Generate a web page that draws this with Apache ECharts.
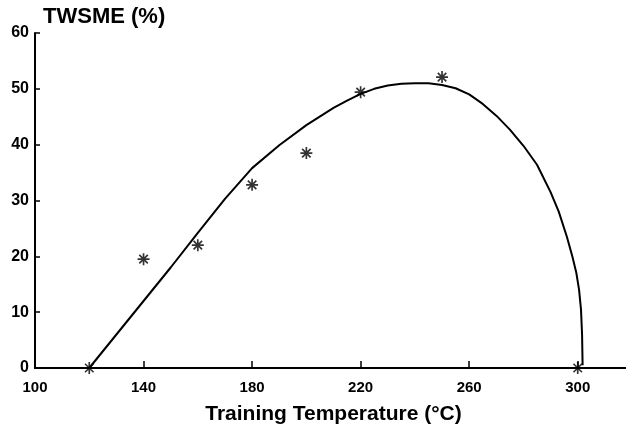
<!DOCTYPE html>
<html>
<head>
<meta charset="utf-8">
<title>TWSME vs Training Temperature</title>
<script src="https://cdn.jsdelivr.net/npm/echarts@6/dist/echarts.min.js"></script>
<style>
html,body{margin:0;padding:0;background:#fff;}
#main{width:626px;height:431px;}
</style>
</head>
<body>
<div id="main"></div>
<script>
// measured points (stars)
var pointTemp = [120, 140, 160, 180, 200, 220, 250, 300];
var pointTwsme = [0, 19.5, 22, 32.8, 38.5, 49.4, 52.1, 0];

// fitted curve
var curveTemp = [120, 130, 140, 150, 160, 170, 180, 190, 200, 210, 215, 220, 225, 230, 235, 240, 245, 250, 255, 260, 265, 270, 275, 280, 285, 290, 293, 296, 298, 299.5, 300.5, 301.2, 301.6, 301.8];
var curveTwsme = [0, 6, 12, 18, 24.2, 30.3, 35.8, 39.9, 43.5, 46.6, 47.9, 49.1, 50, 50.6, 50.9, 51, 51, 50.7, 50.1, 49, 47.3, 45.2, 42.7, 39.8, 36.4, 31.5, 28, 23.5, 20, 17, 14, 10.5, 6, 0.5];

// tick labels
var xLabels = [100, 140, 180, 220, 260, 300];
var xTicks = [140, 180, 220, 260, 300];

// 8-arm asterisk
var asterisk = 'path://M-1.4,-10L1.4,-10L1.4,10L-1.4,10Z' +
	'M-10,-1.4L10,-1.4L10,1.4L-10,1.4Z' +
	'M-8.06,-6.08L-6.08,-8.06L8.06,6.08L6.08,8.06Z' +
	'M6.08,-8.06L8.06,-6.08L-6.08,8.06L-8.06,6.08Z';

function pairs(xs, ys){
	var out = [];
	for (var i = 0; i < xs.length; i++) {
		out.push([xs[i], ys[i]]);
	}
	return out;
}

var font = '"Liberation Sans", Arial, sans-serif';
var chart = echarts.init(document.getElementById('main'), null, {renderer: 'canvas'});

var option = {
	animation: false,
	backgroundColor: '#fff',
	title: {
		text: 'TWSME (%)',
		left: 38,
		top: 1,
		textStyle: {fontFamily: font, fontSize: 22, fontWeight: 'bold', color: '#000'}
	},
	grid: {left: 35, top: 33, bottom: 63, right: -6, outerBoundsMode: 'none', containLabel: false},
	xAxis: [{
		type: 'value',
		min: 100,
		max: 320,
		interval: 40,
		name: 'Training Temperature (°C)',
		nameLocation: 'middle',
		nameGap: 36,
		nameTextStyle: {fontFamily: font, fontSize: 21, fontWeight: 'bold', color: '#000'},
		axisLine: {show: true, onZero: false, lineStyle: {color: '#000', width: 2}},
		axisTick: {show: true, inside: true, length: 7, customValues: xTicks, lineStyle: {color: '#000', width: 1.5}},
		axisLabel: {margin: 12, customValues: xLabels, fontFamily: font, fontSize: 15, fontWeight: 'bold', color: '#000'},
		splitLine: {show: false}
	}, {
		type: 'value',
		position: 'top',
		min: 100,
		max: 320,
		axisLine: {show: true, lineStyle: {color: '#000', width: 2}},
		axisTick: {show: false},
		axisLabel: {show: false},
		splitLine: {show: false}
	}],
	yAxis: {
		type: 'value',
		min: 0,
		max: 60,
		interval: 10,
		axisLine: {show: true, lineStyle: {color: '#000', width: 2}},
		axisTick: {show: true, inside: true, length: 5, lineStyle: {color: '#000', width: 1.5}},
		axisLabel: {margin: 6, fontFamily: font, fontSize: 16, fontWeight: 'bold', color: '#000'},
		splitLine: {show: false}
	},
	series: [{
		type: 'line',
		data: pairs(curveTemp, curveTwsme),
		smooth: false,
		showSymbol: false,
		lineStyle: {color: '#000', width: 2},
		z: 2
	}, {
		type: 'scatter',
		data: pairs(pointTemp, pointTwsme),
		symbol: asterisk,
		symbolSize: 12,
		itemStyle: {color: '#000'},
		z: 3
	}]
};
chart.setOption(option);
</script>
</body>
</html>
